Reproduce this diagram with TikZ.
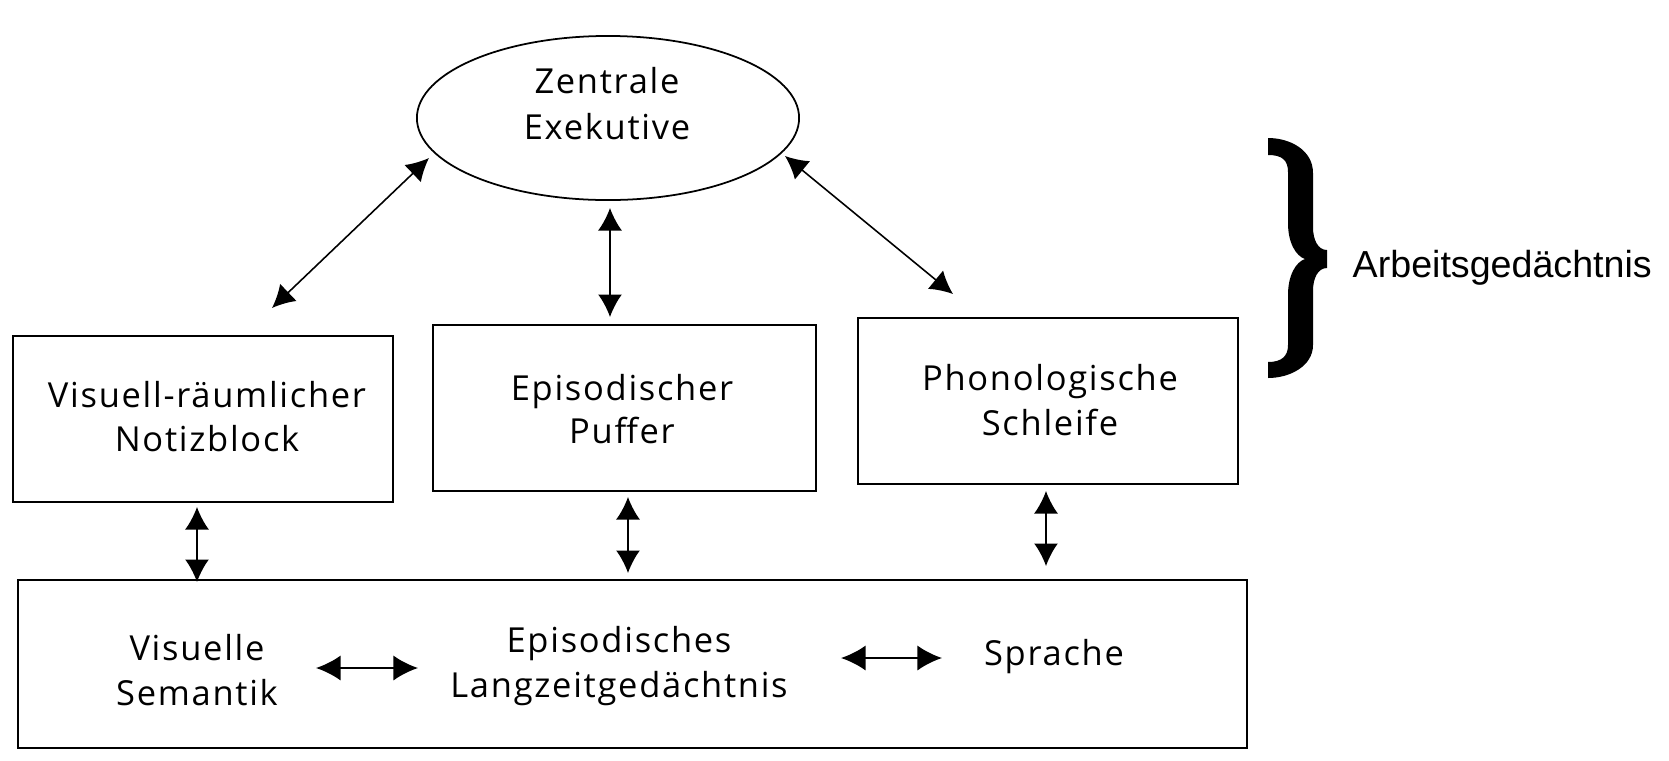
\documentclass[tikz,border=0pt]{standalone}
\usepackage{fontspec}
\newfontfamily\frut[LetterSpace=5]{Open Sans}
\newfontfamily\arial{Liberation Sans}
\usetikzlibrary{shapes.geometric,arrows.meta}
\tikzset{
  boxline/.style={draw, line width=0.5pt, inner sep=0pt},
  rbox/.style={boxline, rectangle},
  txt/.style={font=\frut\fontsize{9.8pt}{12pt}\selectfont, inner sep=0pt, anchor=base},
  biarrow/.style={{Latex[length=6.4pt,width=6.8pt]}-{Latex[length=6.4pt,width=6.8pt]}, line width=0.45pt},
  harrow/.style={{Latex[length=7pt,width=7.2pt]}-{Latex[length=7pt,width=7.2pt]}, line width=0.7pt}
}
\begin{document}
\begin{tikzpicture}[x=0.01cm,y=-0.01cm]
\useasboundingbox (0,0) rectangle (1669,760);
% shapes
\node[boxline, ellipse, minimum width=3.82cm, minimum height=1.64cm] (ce) at (608,118) {};
\node[rbox, minimum width=3.80cm, minimum height=1.66cm] (vn) at (203,419) {};
\node[rbox, minimum width=3.83cm, minimum height=1.66cm] (ep) at (624.5,408) {};
\node[rbox, minimum width=3.80cm, minimum height=1.66cm] (ph) at (1048,401) {};
\node[rbox, minimum width=12.29cm, minimum height=1.68cm] (lz) at (632.5,664) {};
% texts
\node[txt] (t1a) at (607,93) {Zentrale};
\node[txt] (t1b) at (607,139) {Exekutive};
\node[txt] (t2a) at (207,407) {Visuell-räumlicher};
\node[txt] (t2b) at (207,451) {Notizblock};
\node[txt] (t3a) at (622,400) {Episodischer};
\node[txt] (t3b) at (622,443) {Puffer};
\node[txt] (t4a) at (1050,390) {Phonologische};
\node[txt] (t4b) at (1050,435) {Schleife};
\node[txt] (t5a) at (197,660) {Visuelle};
\node[txt] (t5b) at (197,705) {Semantik};
\node[txt] (t6a) at (619,652) {Episodisches};
\node[txt] (t6b) at (619,697) {Langzeitgedächtnis};
\node[txt] (t7) at (1054,665) {Sprache};
\node[font=\arial\fontsize{10.7pt}{13pt}\selectfont, inner sep=0pt, anchor=base west] (ag) at (1352,277) {Arbeitsgedächtnis};
% arrow end points
\coordinate (a1e) at (429,158); \coordinate (a1s) at (272,308);
\coordinate (a2e) at (610,208); \coordinate (a2s) at (610,317);
\coordinate (a3e) at (785,156); \coordinate (a3s) at (953,294);
\coordinate (b1e) at (197,507); \coordinate (b1s) at (197,582);
\coordinate (b2e) at (628,497); \coordinate (b2s) at (628,573);
\coordinate (b3e) at (1046,491); \coordinate (b3s) at (1046,566);
\coordinate (h1a) at (316,668); \coordinate (h1b) at (418,668);
\coordinate (h2a) at (841,658); \coordinate (h2b) at (942,658);
% connectors
\draw[biarrow] (a1s) -- (a1e);
\draw[biarrow] (a2s) -- (a2e);
\draw[biarrow] (a3s) -- (a3e);
\draw[biarrow] (b1s) -- (b1e);
\draw[biarrow] (b2s) -- (b2e);
\draw[biarrow] (b3s) -- (b3e);
\draw[harrow] (h1a) -- (h1b);
\draw[harrow] (h2a) -- (h2b);
% brace
\fill (1268,138) .. controls (1290,138) and (1313,150) .. (1313,173)
  -- (1313,227) .. controls (1313,240) and (1318,250) .. (1327,250)
  -- (1327,268) .. controls (1318,268) and (1313,278) .. (1313,291)
  -- (1313,345) .. controls (1313,366) and (1290,378) .. (1268,378)
  -- (1268,362) .. controls (1282,362) and (1288,356) .. (1288,345)
  -- (1288,295) .. controls (1288,275) and (1296,262) .. (1305,259)
  .. controls (1296,256) and (1288,243) .. (1288,223)
  -- (1288,172) .. controls (1288,160) and (1282,155) .. (1268,155) -- cycle;
\end{tikzpicture}
\end{document}
